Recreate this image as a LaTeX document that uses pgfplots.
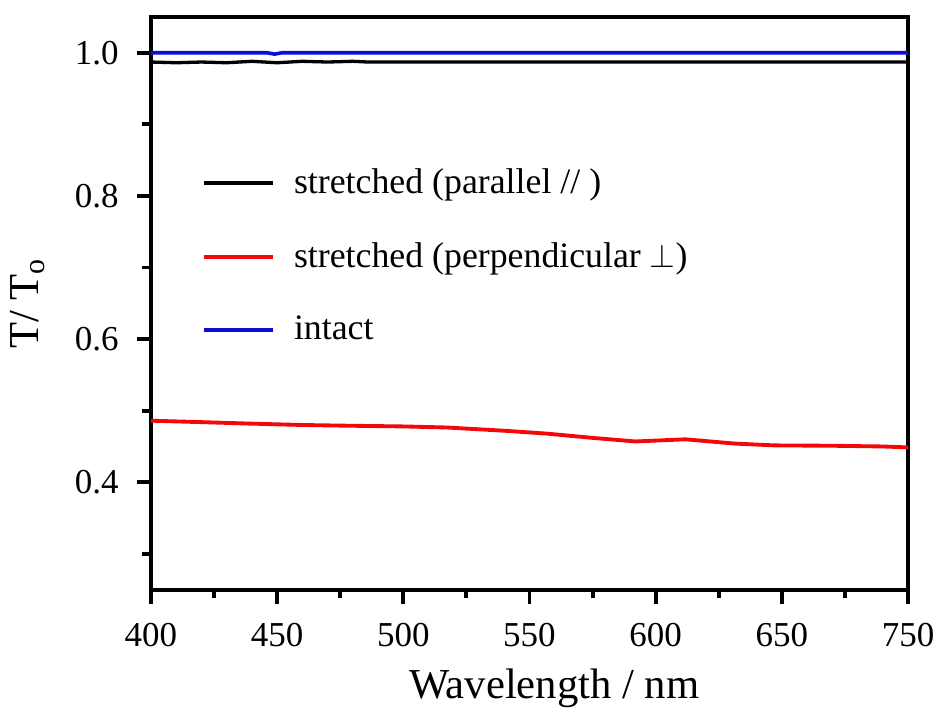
\documentclass[border=0pt]{standalone}
\usepackage{pgfplots}
\pgfplotsset{compat=1.18}
\usepackage{fontspec}
\setmainfont{Liberation Serif}
\definecolor{lnred}{rgb}{0.95,0.03,0.03}
\definecolor{lnblue}{rgb}{0.05,0.05,0.85}
\begin{document}
\begin{tikzpicture}
\begin{axis}[
  scale only axis,
  width=275pt, height=208pt,
  xmin=400, xmax=700, ymin=0.25, ymax=1.05,
  xtick={400,450,...,700}, ytick={0.4,0.6,0.8,1.0},
  minor xtick={425,475,...,675}, minor ytick={0.3,0.5,0.7,0.9},
  xticklabels={400,450,500,550,600,650,750},
  yticklabels={0.4,0.6,0.8,1.0},
  yticklabel style={xshift=-3pt},
  xticklabel style={yshift=-3.5pt},
  tick align=outside, tick pos=left,
  major tick length=5.2pt, minor tick length=3.2pt,
  every tick/.style={black, line width=1.4pt},
  axis line style={line width=1.5pt},
  tick label style={font=\fontsize{12.7}{14}\selectfont},
  label style={font=\fontsize{15.5}{18}\selectfont},
  xlabel={Wavelength / nm}, ylabel={T/ T\textsubscript{o}},
  xlabel style={yshift=-1pt, xshift=9pt},
  ylabel style={yshift=4pt},
  legend style={draw=none, fill=none, at={(rel axis cs:0.056,0.755)}, anchor=north west,
    font=\fontsize{13}{15}\selectfont, row sep=12.2pt,
    nodes={inner xsep=7pt}},
  legend cell align=left,
  legend image code/.code={\draw[#1, line width=1.4pt] (0pt,0pt) -- (25pt,0pt);},
]
\addplot[black, line width=1.2pt] coordinates {
  (400,0.987) (410,0.986) (420,0.987) (430,0.986) (440,0.988) (450,0.986)
  (460,0.988) (470,0.987) (480,0.988) (486,0.987) (500,0.987) (550,0.987)
  (600,0.987) (654,0.987) (700,0.987)};
\addlegendentry{stretched (parallel // )}
\addplot[lnred, line width=1.4pt] coordinates {
  (400,0.486) (420,0.484) (438.6,0.482) (460,0.480) (478,0.479) (500,0.478)
  (517.3,0.4765) (540,0.472) (556.7,0.468) (575,0.462) (592,0.457)
  (611.8,0.460) (631.5,0.454) (647.2,0.4515) (670,0.451) (690,0.450) (700,0.4487)};
\addlegendentry{stretched (perpendicular $\perp$)}
\addplot[lnblue, line width=1.3pt] coordinates {
  (400,1.000) (446,1.000) (449,0.998) (452,1.000) (500,1.000) (550,1.000)
  (600,1.000) (650,1.000) (700,1.000)};
\addlegendentry{intact}
\end{axis}
\path ([xshift=-0.5pt,yshift=-1pt]current axis.outer south west)
      ([xshift=2pt,yshift=5.4pt]current axis.outer north east);
\end{tikzpicture}
\end{document}
